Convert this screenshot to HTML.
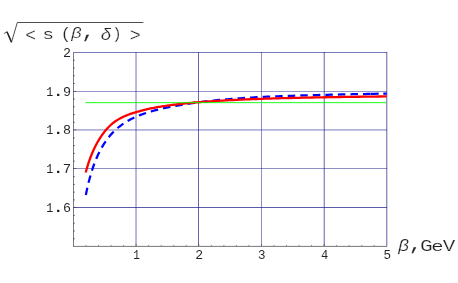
<!DOCTYPE html>
<html><head><meta charset="utf-8"><title>sqrt s(beta, delta) vs beta</title><style>
html,body{margin:0;padding:0;background:#fff;}
svg{display:block}
</style></head><body>
<svg width="458" height="283" viewBox="0 0 458 283">
<rect width="458" height="283" fill="#fff"/>
<rect x="74" y="52" width="313" height="1" fill="#1e1e8c" fill-opacity="0.6"/>
<rect x="74" y="91" width="313" height="1" fill="#1e1e8c" fill-opacity="0.47"/>
<rect x="74" y="129" width="313" height="1" fill="#1e1e8c" fill-opacity="0.33"/>
<rect x="74" y="130" width="313" height="1" fill="#1e1e8c" fill-opacity="0.27"/>
<rect x="74" y="168" width="313" height="1" fill="#1e1e8c" fill-opacity="0.5"/>
<rect x="74" y="207" width="313" height="1" fill="#1e1e8c" fill-opacity="0.73"/>
<rect x="135" y="52" width="1" height="194" fill="#1e1e8c" fill-opacity="0.3"/>
<rect x="136" y="52" width="1" height="194" fill="#1e1e8c" fill-opacity="0.32"/>
<rect x="198" y="52" width="1" height="194" fill="#1e1e8c" fill-opacity="0.68"/>
<rect x="261" y="52" width="1" height="194" fill="#1e1e8c" fill-opacity="0.5"/>
<rect x="323" y="52" width="1" height="194" fill="#1e1e8c" fill-opacity="0.2"/>
<rect x="324" y="52" width="1" height="194" fill="#1e1e8c" fill-opacity="0.5"/>
<rect x="386" y="52" width="1" height="194" fill="#1e1e8c" fill-opacity="0.5"/>
<rect x="387" y="52" width="1" height="194" fill="#1e1e8c" fill-opacity="0.2"/>

<path d="M85.84,195.01 L86.01,194.16 L86.18,193.31 L86.35,192.46 L86.53,191.61 L86.71,190.76 L86.89,189.92 L87.07,189.08 L87.25,188.24 L87.44,187.40 L87.63,186.56 L87.83,185.73 L88.02,184.90 L88.22,184.07 L88.42,183.24 L88.62,182.42 L88.83,181.59 L89.04,180.77 L89.25,179.95 L89.47,179.14 L89.68,178.33 L89.91,177.51 L90.13,176.71 L90.36,175.90 L90.59,175.10 L90.82,174.30 L91.06,173.50 L91.30,172.71 L91.54,171.92 L91.79,171.13 L92.03,170.34 L92.29,169.56 L92.54,168.78 L92.80,168.00 L93.07,167.23 L93.33,166.46 L93.61,165.69 L93.88,164.93 L94.16,164.16 L94.44,163.41 L94.73,162.65 L95.02,161.90 L95.31,161.15 L95.61,160.41 L95.91,159.67 L96.22,158.93 L96.53,158.20 L96.84,157.47 L97.16,156.74 L97.48,156.02 L97.81,155.30 L98.14,154.59 L98.48,153.87 L98.82,153.17 L99.16,152.46 L99.51,151.76 L99.87,151.07 L100.23,150.38 L100.59,149.69 L100.96,149.01 L101.34,148.33 L101.72,147.65 L102.10,146.98 L102.49,146.32 L102.89,145.65 L103.29,145.00 L103.70,144.34 L104.11,143.69 L104.53,143.05 L104.95,142.41 L105.38,141.77 L105.82,141.14 L106.26,140.52 L106.70,139.90 L107.16,139.28 L107.62,138.67 L108.08,138.06 L108.56,137.46 L109.03,136.86 L109.52,136.27 L110.01,135.68 L110.51,135.10 L111.01,134.52 L111.53,133.95 L112.05,133.39 L112.57,132.82 L113.11,132.27 L113.65,131.72 L114.19,131.17 L114.75,130.63 L115.31,130.10 L115.88,129.57 L116.46,129.04 L117.05,128.52 L117.64,128.01 L118.25,127.50 L118.86,127.00 L119.48,126.51 L120.10,126.02 L120.74,125.53 L121.39,125.05 L122.04,124.58 L122.70,124.12 L123.37,123.65 L124.05,123.20 L124.74,122.75 L125.44,122.31 L126.15,121.87 L126.87,121.44 L127.60,121.01 L128.34,120.59 L129.09,120.18 L129.85,119.77 L130.62,119.36 L131.40,118.96 L132.19,118.57 L132.99,118.18 L133.80,117.79 L134.62,117.41 L135.46,117.04 L136.30,116.67 L137.16,116.30 L138.03,115.94 L138.91,115.59 L139.80,115.23 L140.71,114.88 L141.63,114.54 L142.56,114.20 L143.50,113.87 L144.45,113.53 L145.42,113.21 L146.40,112.88 L147.40,112.56 L148.41,112.24 L149.43,111.93 L150.47,111.62 L151.52,111.31 L152.58,111.01 L153.66,110.71 L154.76,110.41 L155.87,110.12 L156.99,109.83 L158.13,109.54 L159.29,109.26 L160.46,108.97 L161.65,108.69 L162.85,108.42 L164.07,108.14 L165.30,107.87 L166.56,107.60 L167.83,107.33 L169.12,107.07 L170.42,106.80 L171.74,106.54 L173.09,106.28 L174.45,106.03 L175.82,105.77 L177.22,105.52 L178.64,105.27 L180.07,105.02 L181.53,104.77 L183.00,104.53 L184.50,104.29 L186.01,104.05 L187.55,103.81 L189.10,103.58 L190.68,103.34 L192.28,103.11 L193.90,102.89 L195.55,102.66 L197.21,102.44 L198.90,102.22 L200.61,102.00 L202.35,101.79 L204.11,101.58 L205.89,101.37 L207.70,101.16 L209.53,100.96 L211.39,100.76 L213.27,100.56 L215.18,100.37 L217.11,100.17 L219.07,99.98 L221.06,99.80 L223.08,99.61 L225.12,99.43 L227.19,99.26 L229.29,99.08 L231.41,98.91 L233.57,98.74 L235.75,98.58 L237.97,98.42 L240.21,98.26 L242.49,98.10 L244.80,97.95 L247.14,97.80 L249.51,97.65 L251.91,97.51 L254.34,97.37 L256.81,97.24 L259.32,97.11 L261.85,96.98 L264.42,96.85 L267.03,96.73 L269.67,96.61 L272.35,96.50 L275.07,96.38 L277.82,96.27 L280.61,96.17 L283.43,96.06 L286.30,95.96 L289.21,95.86 L292.15,95.76 L295.13,95.67 L298.16,95.57 L301.23,95.48 L304.34,95.39 L307.49,95.30 L310.68,95.22 L313.92,95.13 L317.20,95.05 L320.53,94.96 L323.90,94.88 L327.32,94.80 L330.79,94.72 L334.30,94.64 L337.86,94.56 L341.47,94.48 L345.13,94.40 L348.83,94.32 L352.59,94.24 L356.40,94.17 L360.26,94.09 L364.18,94.01 L368.15,93.93 L371.20,93.86" fill="none" stroke="#0000ff" stroke-width="2.25" stroke-dasharray="7.5 5.05"/>
<path d="M370.61,93.88 L374.73,93.79 L378.91,93.71 L383.15,93.62 L386.75,93.55" fill="none" stroke="#0000ff" stroke-width="2.25" stroke-dasharray="8.1 4.6 7.5 5.05"/>
<path d="M85.69,172.50 L85.86,171.87 L86.03,171.24 L86.21,170.61 L86.38,169.99 L86.56,169.36 L86.74,168.73 L86.93,168.10 L87.11,167.48 L87.30,166.85 L87.49,166.22 L87.69,165.59 L87.88,164.97 L88.08,164.34 L88.28,163.72 L88.49,163.09 L88.70,162.47 L88.91,161.84 L89.12,161.22 L89.34,160.60 L89.56,159.97 L89.78,159.35 L90.01,158.73 L90.23,158.11 L90.47,157.49 L90.70,156.87 L90.94,156.26 L91.18,155.64 L91.43,155.02 L91.68,154.41 L91.93,153.79 L92.18,153.18 L92.44,152.57 L92.71,151.96 L92.97,151.35 L93.24,150.74 L93.52,150.13 L93.79,149.53 L94.07,148.92 L94.36,148.32 L94.65,147.72 L94.94,147.12 L95.24,146.52 L95.54,145.92 L95.85,145.33 L96.16,144.73 L96.47,144.14 L96.79,143.55 L97.11,142.96 L97.44,142.38 L97.77,141.79 L98.11,141.21 L98.45,140.62 L98.80,140.04 L99.15,139.47 L99.50,138.89 L99.86,138.32 L100.23,137.74 L100.60,137.17 L100.97,136.61 L101.36,136.04 L101.74,135.48 L102.13,134.92 L102.53,134.36 L102.93,133.80 L103.34,133.25 L103.76,132.70 L104.17,132.15 L104.60,131.61 L105.03,131.07 L105.47,130.54 L105.91,130.01 L106.36,129.48 L106.82,128.96 L107.28,128.45 L107.75,127.94 L108.22,127.44 L108.70,126.94 L109.19,126.45 L109.69,125.97 L110.19,125.49 L110.70,125.02 L111.21,124.56 L111.74,124.10 L112.27,123.65 L112.80,123.22 L113.35,122.78 L113.90,122.36 L114.46,121.95 L115.03,121.54 L115.61,121.14 L116.19,120.75 L116.78,120.36 L117.38,119.99 L117.99,119.62 L118.61,119.25 L119.23,118.89 L119.87,118.54 L120.51,118.20 L121.16,117.86 L121.82,117.52 L122.49,117.19 L123.17,116.87 L123.86,116.55 L124.56,116.24 L125.27,115.93 L125.99,115.63 L126.71,115.33 L127.45,115.04 L128.20,114.75 L128.96,114.46 L129.73,114.18 L130.51,113.90 L131.30,113.62 L132.10,113.35 L132.91,113.08 L133.74,112.81 L134.57,112.55 L135.42,112.29 L136.28,112.03 L137.15,111.77 L138.03,111.52 L138.92,111.27 L139.83,111.02 L140.75,110.78 L141.68,110.53 L142.63,110.29 L143.59,110.06 L144.56,109.82 L145.54,109.59 L146.54,109.36 L147.56,109.13 L148.58,108.91 L149.62,108.68 L150.68,108.46 L151.75,108.25 L152.84,108.03 L153.94,107.82 L155.05,107.61 L156.18,107.40 L157.33,107.20 L158.49,106.99 L159.67,106.79 L160.86,106.60 L162.08,106.40 L163.30,106.21 L164.55,106.02 L165.81,105.83 L167.09,105.64 L168.39,105.46 L169.71,105.27 L171.04,105.10 L172.39,104.92 L173.76,104.74 L175.15,104.57 L176.56,104.40 L177.99,104.23 L179.44,104.06 L180.91,103.90 L182.40,103.74 L183.91,103.58 L185.44,103.42 L186.99,103.26 L188.57,103.11 L190.16,102.96 L191.78,102.81 L193.42,102.66 L195.08,102.51 L196.77,102.37 L198.48,102.23 L200.21,102.09 L201.97,101.95 L203.75,101.81 L205.56,101.68 L207.39,101.55 L209.25,101.42 L211.13,101.29 L213.04,101.16 L214.97,101.03 L216.93,100.91 L218.92,100.79 L220.94,100.67 L222.98,100.55 L225.06,100.44 L227.16,100.32 L229.29,100.21 L231.45,100.10 L233.64,99.99 L235.86,99.88 L238.11,99.78 L240.39,99.67 L242.71,99.57 L245.05,99.47 L247.43,99.37 L249.85,99.27 L252.29,99.18 L254.77,99.08 L257.28,98.99 L259.83,98.90 L262.42,98.81 L265.04,98.72 L267.69,98.64 L270.39,98.55 L273.12,98.47 L275.88,98.38 L278.69,98.30 L281.54,98.22 L284.42,98.15 L287.34,98.07 L290.31,97.99 L293.32,97.92 L296.36,97.85 L299.46,97.78 L302.59,97.71 L305.77,97.64 L308.99,97.57 L312.25,97.50 L315.56,97.44 L318.92,97.37 L322.32,97.31 L325.77,97.25 L329.27,97.19 L332.82,97.13 L336.41,97.07 L340.06,97.02 L343.76,96.96 L347.50,96.91 L351.30,96.86 L355.16,96.80 L359.06,96.75 L363.02,96.70 L367.04,96.65 L371.11,96.61 L375.23,96.56 L379.42,96.51 L383.66,96.47 L386.75,96.44" fill="none" stroke="#ff0000" stroke-width="2.3"/>
<line x1="85.4" y1="102.65" x2="386.8" y2="102.65" stroke="#00ff00" stroke-width="0.9"/>
<line x1="73.5" y1="52" x2="73.5" y2="247" stroke="#7a7a8c" stroke-width="1"/>
<line x1="73" y1="246.4" x2="387.1" y2="246.4" stroke="#78787c" stroke-width="1"/>
<line x1="86.03" y1="246" x2="86.03" y2="244.90" stroke="#444" stroke-width="0.6"/>
<line x1="98.56" y1="246" x2="98.56" y2="244.90" stroke="#444" stroke-width="0.6"/>
<line x1="111.09" y1="246" x2="111.09" y2="244.90" stroke="#444" stroke-width="0.6"/>
<line x1="123.62" y1="246" x2="123.62" y2="244.90" stroke="#444" stroke-width="0.6"/>
<line x1="136.15" y1="246" x2="136.15" y2="243.80" stroke="#444" stroke-width="0.6"/>
<line x1="148.68" y1="246" x2="148.68" y2="244.90" stroke="#444" stroke-width="0.6"/>
<line x1="161.21" y1="246" x2="161.21" y2="244.90" stroke="#444" stroke-width="0.6"/>
<line x1="173.74" y1="246" x2="173.74" y2="244.90" stroke="#444" stroke-width="0.6"/>
<line x1="186.27" y1="246" x2="186.27" y2="244.90" stroke="#444" stroke-width="0.6"/>
<line x1="198.80" y1="246" x2="198.80" y2="243.80" stroke="#444" stroke-width="0.6"/>
<line x1="211.33" y1="246" x2="211.33" y2="244.90" stroke="#444" stroke-width="0.6"/>
<line x1="223.86" y1="246" x2="223.86" y2="244.90" stroke="#444" stroke-width="0.6"/>
<line x1="236.39" y1="246" x2="236.39" y2="244.90" stroke="#444" stroke-width="0.6"/>
<line x1="248.92" y1="246" x2="248.92" y2="244.90" stroke="#444" stroke-width="0.6"/>
<line x1="261.45" y1="246" x2="261.45" y2="243.80" stroke="#444" stroke-width="0.6"/>
<line x1="273.98" y1="246" x2="273.98" y2="244.90" stroke="#444" stroke-width="0.6"/>
<line x1="286.51" y1="246" x2="286.51" y2="244.90" stroke="#444" stroke-width="0.6"/>
<line x1="299.04" y1="246" x2="299.04" y2="244.90" stroke="#444" stroke-width="0.6"/>
<line x1="311.57" y1="246" x2="311.57" y2="244.90" stroke="#444" stroke-width="0.6"/>
<line x1="324.10" y1="246" x2="324.10" y2="243.80" stroke="#444" stroke-width="0.6"/>
<line x1="336.63" y1="246" x2="336.63" y2="244.90" stroke="#444" stroke-width="0.6"/>
<line x1="349.16" y1="246" x2="349.16" y2="244.90" stroke="#444" stroke-width="0.6"/>
<line x1="361.69" y1="246" x2="361.69" y2="244.90" stroke="#444" stroke-width="0.6"/>
<line x1="374.22" y1="246" x2="374.22" y2="244.90" stroke="#444" stroke-width="0.6"/>
<line x1="73" y1="238.74" x2="75.00" y2="238.74" stroke="#2c2c3c" stroke-width="0.55"/>
<line x1="73" y1="230.98" x2="75.00" y2="230.98" stroke="#2c2c3c" stroke-width="0.55"/>
<line x1="73" y1="223.22" x2="75.00" y2="223.22" stroke="#2c2c3c" stroke-width="0.55"/>
<line x1="73" y1="215.46" x2="75.00" y2="215.46" stroke="#2c2c3c" stroke-width="0.55"/>
<line x1="73" y1="207.45" x2="76.10" y2="207.45" stroke="#2c2c3c" stroke-width="0.55"/>
<line x1="73" y1="199.94" x2="75.00" y2="199.94" stroke="#2c2c3c" stroke-width="0.55"/>
<line x1="73" y1="192.18" x2="75.00" y2="192.18" stroke="#2c2c3c" stroke-width="0.55"/>
<line x1="73" y1="184.42" x2="75.00" y2="184.42" stroke="#2c2c3c" stroke-width="0.55"/>
<line x1="73" y1="176.66" x2="75.00" y2="176.66" stroke="#2c2c3c" stroke-width="0.55"/>
<line x1="73" y1="168.50" x2="76.10" y2="168.50" stroke="#2c2c3c" stroke-width="0.55"/>
<line x1="73" y1="161.14" x2="75.00" y2="161.14" stroke="#2c2c3c" stroke-width="0.55"/>
<line x1="73" y1="153.38" x2="75.00" y2="153.38" stroke="#2c2c3c" stroke-width="0.55"/>
<line x1="73" y1="145.62" x2="75.00" y2="145.62" stroke="#2c2c3c" stroke-width="0.55"/>
<line x1="73" y1="137.86" x2="75.00" y2="137.86" stroke="#2c2c3c" stroke-width="0.55"/>
<line x1="73" y1="129.80" x2="76.10" y2="129.80" stroke="#2c2c3c" stroke-width="0.55"/>
<line x1="73" y1="122.34" x2="75.00" y2="122.34" stroke="#2c2c3c" stroke-width="0.55"/>
<line x1="73" y1="114.58" x2="75.00" y2="114.58" stroke="#2c2c3c" stroke-width="0.55"/>
<line x1="73" y1="106.82" x2="75.00" y2="106.82" stroke="#2c2c3c" stroke-width="0.55"/>
<line x1="73" y1="99.06" x2="75.00" y2="99.06" stroke="#2c2c3c" stroke-width="0.55"/>
<line x1="73" y1="91.40" x2="76.10" y2="91.40" stroke="#2c2c3c" stroke-width="0.55"/>
<line x1="73" y1="83.54" x2="75.00" y2="83.54" stroke="#2c2c3c" stroke-width="0.55"/>
<line x1="73" y1="75.78" x2="75.00" y2="75.78" stroke="#2c2c3c" stroke-width="0.55"/>
<line x1="73" y1="68.02" x2="75.00" y2="68.02" stroke="#2c2c3c" stroke-width="0.55"/>
<line x1="73" y1="60.26" x2="75.00" y2="60.26" stroke="#2c2c3c" stroke-width="0.55"/>

<path d="M4.2,33.4 L7.0,31.8 L11.5,42.2 L17.3,22.5 L143.4,22.5" fill="none" stroke="#222" stroke-width="0.8" stroke-linejoin="miter"/>
<path d="M7.0,31.8 L11.5,42.2" fill="none" stroke="#222" stroke-width="1.5"/>
<g style="will-change:transform;filter:grayscale(1)">
<text transform="translate(25.29 40.54) scale(0.1802 0.1770)" font-family="Liberation Mono, monospace" font-style="normal" font-weight="normal" font-size="100" fill="#222" stroke="#fff" stroke-width="0.25" vector-effect="non-scaling-stroke">&lt;</text>
<text transform="translate(42.30 39.27) scale(0.1966 0.1500)" font-family="Liberation Mono, monospace" font-style="normal" font-weight="normal" font-size="100" fill="#222" stroke="#fff" stroke-width="0.25" vector-effect="non-scaling-stroke">s</text>
<text transform="translate(60.53 39.11) scale(0.1788 0.1676)" font-family="Liberation Mono, monospace" font-style="normal" font-weight="normal" font-size="100" fill="#222" stroke="#fff" stroke-width="0.25" vector-effect="non-scaling-stroke">(</text>
<text transform="translate(71.14 38.42) scale(0.1816 0.1527)" font-family="Liberation Sans, sans-serif" font-style="italic" font-weight="normal" font-size="100" fill="#222" stroke="#fff" stroke-width="0.25" vector-effect="non-scaling-stroke">β</text>
<text transform="translate(84.05 38.19) scale(0.1379 0.1781)" font-family="Liberation Mono, monospace" font-style="italic" font-weight="bold" font-size="100" fill="#222" stroke="#222" stroke-width="0.4" vector-effect="non-scaling-stroke">,</text>
<text transform="translate(100.82 39.62) scale(0.1858 0.1719)" font-family="Liberation Sans, sans-serif" font-style="italic" font-weight="normal" font-size="100" fill="#222" stroke="#fff" stroke-width="0.25" vector-effect="non-scaling-stroke">δ</text>
<text transform="translate(112.00 39.11) scale(0.1635 0.1676)" font-family="Liberation Mono, monospace" font-style="normal" font-weight="normal" font-size="100" fill="#222" stroke="#fff" stroke-width="0.25" vector-effect="non-scaling-stroke">)</text>
<text transform="translate(129.77 40.57) scale(0.1844 0.1810)" font-family="Liberation Mono, monospace" font-style="normal" font-weight="normal" font-size="100" fill="#222" stroke="#fff" stroke-width="0.25" vector-effect="non-scaling-stroke">&gt;</text>
<text transform="translate(398.35 250.51) scale(0.1886 0.1580)" font-family="Liberation Sans, sans-serif" font-style="italic" font-weight="normal" font-size="100" fill="#222" stroke="#fff" stroke-width="0.25" vector-effect="non-scaling-stroke">β</text>
<text transform="translate(411.25 250.42) scale(0.1379 0.1656)" font-family="Liberation Mono, monospace" font-style="italic" font-weight="bold" font-size="100" fill="#222" stroke="#222" stroke-width="0.4" vector-effect="non-scaling-stroke">,</text>
<text transform="translate(420.01 251.06) scale(0.2115 0.1684)" font-family="Liberation Mono, monospace" font-style="normal" font-weight="normal" font-size="100" fill="#222" stroke="#fff" stroke-width="0.25" vector-effect="non-scaling-stroke">G</text>
<text transform="translate(431.14 251.07) scale(0.2054 0.1518)" font-family="Liberation Mono, monospace" font-style="normal" font-weight="normal" font-size="100" fill="#222" stroke="#fff" stroke-width="0.25" vector-effect="non-scaling-stroke">e</text>
<text transform="translate(442.77 251.03) scale(0.2095 0.1689)" font-family="Liberation Mono, monospace" font-style="normal" font-weight="normal" font-size="100" fill="#222" stroke="#fff" stroke-width="0.25" vector-effect="non-scaling-stroke">V</text>
<text transform="translate(62.95 57.07) scale(0.1335 0.1334)" font-family="Liberation Mono, monospace" font-style="normal" font-weight="normal" font-size="100" fill="#222" stroke="#fff" stroke-width="0.04" vector-effect="non-scaling-stroke">2</text>
<text transform="translate(62.95 95.84) scale(0.1335 0.1315)" font-family="Liberation Mono, monospace" font-style="normal" font-weight="normal" font-size="100" fill="#222" stroke="#fff" stroke-width="0.04" vector-effect="non-scaling-stroke">9</text>
<text transform="translate(46.36 95.82) scale(0.1175 0.1332)" font-family="Liberation Mono, monospace" font-style="normal" font-weight="normal" font-size="100" fill="#222" stroke="#fff" stroke-width="0.04" vector-effect="non-scaling-stroke">1</text>
<text transform="translate(53.22 95.80) scale(0.1643 0.1400)" font-family="Liberation Mono, monospace" font-style="normal" font-weight="bold" font-size="100" fill="#222">.</text>
<text transform="translate(62.95 134.24) scale(0.1335 0.1315)" font-family="Liberation Mono, monospace" font-style="normal" font-weight="normal" font-size="100" fill="#222" stroke="#fff" stroke-width="0.04" vector-effect="non-scaling-stroke">8</text>
<text transform="translate(46.36 134.22) scale(0.1175 0.1332)" font-family="Liberation Mono, monospace" font-style="normal" font-weight="normal" font-size="100" fill="#222" stroke="#fff" stroke-width="0.04" vector-effect="non-scaling-stroke">1</text>
<text transform="translate(53.22 134.20) scale(0.1643 0.1400)" font-family="Liberation Mono, monospace" font-style="normal" font-weight="bold" font-size="100" fill="#222">.</text>
<text transform="translate(62.76 173.07) scale(0.1395 0.1355)" font-family="Liberation Mono, monospace" font-style="normal" font-weight="normal" font-size="100" fill="#222" stroke="#fff" stroke-width="0.04" vector-effect="non-scaling-stroke">7</text>
<text transform="translate(46.36 172.92) scale(0.1175 0.1332)" font-family="Liberation Mono, monospace" font-style="normal" font-weight="normal" font-size="100" fill="#222" stroke="#fff" stroke-width="0.04" vector-effect="non-scaling-stroke">1</text>
<text transform="translate(53.22 172.90) scale(0.1643 0.1400)" font-family="Liberation Mono, monospace" font-style="normal" font-weight="bold" font-size="100" fill="#222">.</text>
<text transform="translate(62.95 211.89) scale(0.1335 0.1315)" font-family="Liberation Mono, monospace" font-style="normal" font-weight="normal" font-size="100" fill="#222" stroke="#fff" stroke-width="0.04" vector-effect="non-scaling-stroke">6</text>
<text transform="translate(46.36 211.87) scale(0.1175 0.1332)" font-family="Liberation Mono, monospace" font-style="normal" font-weight="normal" font-size="100" fill="#222" stroke="#fff" stroke-width="0.04" vector-effect="non-scaling-stroke">1</text>
<text transform="translate(53.22 211.85) scale(0.1643 0.1400)" font-family="Liberation Mono, monospace" font-style="normal" font-weight="bold" font-size="100" fill="#222">.</text>
<text transform="translate(133.17 258.82) scale(0.1092 0.1309)" font-family="Liberation Mono, monospace" font-style="normal" font-weight="normal" font-size="100" fill="#222" stroke="#fff" stroke-width="0.04" vector-effect="non-scaling-stroke">1</text>
<text transform="translate(195.26 258.82) scale(0.1313 0.1290)" font-family="Liberation Mono, monospace" font-style="normal" font-weight="normal" font-size="100" fill="#222" stroke="#fff" stroke-width="0.04" vector-effect="non-scaling-stroke">2</text>
<text transform="translate(258.07 258.69) scale(0.1258 0.1271)" font-family="Liberation Mono, monospace" font-style="normal" font-weight="normal" font-size="100" fill="#222" stroke="#fff" stroke-width="0.04" vector-effect="non-scaling-stroke">3</text>
<text transform="translate(320.88 258.95) scale(0.1208 0.1329)" font-family="Liberation Mono, monospace" font-style="normal" font-weight="normal" font-size="100" fill="#222" stroke="#fff" stroke-width="0.04" vector-effect="non-scaling-stroke">4</text>
<text transform="translate(383.38 258.69) scale(0.1258 0.1290)" font-family="Liberation Mono, monospace" font-style="normal" font-weight="normal" font-size="100" fill="#222" stroke="#fff" stroke-width="0.04" vector-effect="non-scaling-stroke">5</text>
</g>
</svg>
</body></html>
